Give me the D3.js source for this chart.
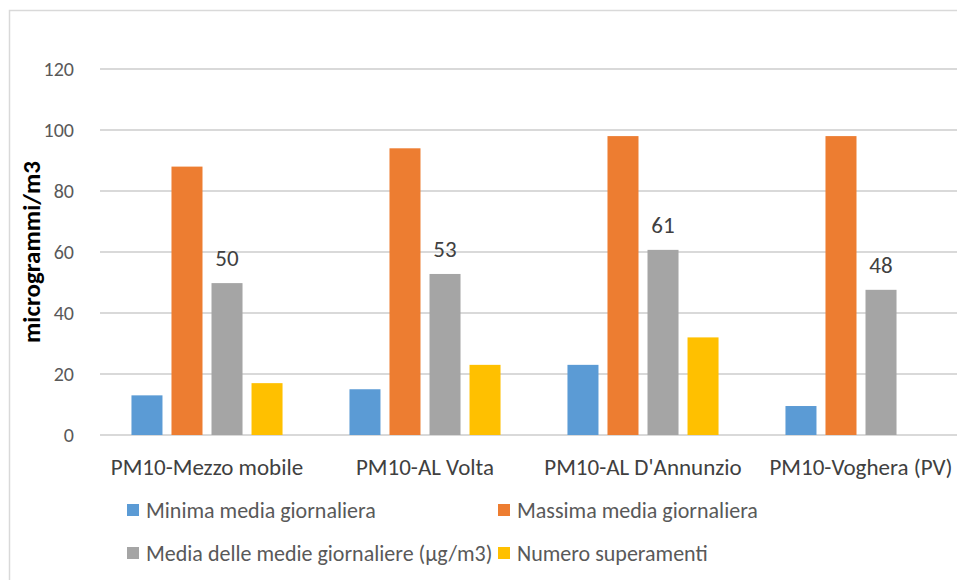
<!DOCTYPE html>
<html>
<head>
<meta charset="utf-8">
<script src="https://cdn.jsdelivr.net/npm/d3@7"></script>
<style>
  body { margin: 0; background: #fff; }
  svg text { font-family: "Carlito", "Liberation Sans", Arial, sans-serif; }
</style>
</head>
<body>
<div id="chart"></div>
<script>
var categories = ["PM10-Mezzo mobile", "PM10-AL Volta", "PM10-AL D'Annunzio", "PM10-Voghera (PV)"];
var seriesNames = ["Minima media giornaliera", "Massima media giornaliera",
                   "Media delle medie giornaliere (\u00b5g/m3)", "Numero superamenti"];
var minima = [13, 15, 23, 9.5];
var massima = [88, 94, 98, 98];
var mediaMedie = [49.8, 52.8, 60.7, 47.6];
var superamenti = [17, 23, 32, null];
var yTicks = [0, 20, 40, 60, 80, 100, 120];
var colors = ["#5b9bd5", "#ed7d31", "#a5a5a5", "#ffc000"];

var width = 957, height = 580;
var series = [minima, massima, mediaMedie, superamenti];

var svg = d3.select("#chart").append("svg")
    .attr("width", width)
    .attr("height", height);

// chart frame (only top and left visible)
svg.append("path")
    .attr("d", "M9.5," + height + "V10.5H" + width)
    .style("fill", "none")
    .style("stroke", "#d9d9d9")
    .style("stroke-width", "1.5px");

var y = d3.scaleLinear()
    .domain([0, 120])
    .range([435, 69]);

var x0 = d3.scaleBand()
    .domain(categories)
    .range([98, 970])
    .paddingInner(0.307)
    .paddingOuter(0.1535);

var x1 = d3.scaleBand()
    .domain(d3.range(series.length))
    .range([0, x0.bandwidth()])
    .paddingInner(0.225);

// gridlines
svg.append("g").selectAll("line")
    .data(yTicks)
    .enter().append("line")
    .attr("x1", 100)
    .attr("x2", width)
    .attr("y1", function(d) { return y(d); })
    .attr("y2", function(d) { return y(d); })
    .style("stroke", "#d9d9d9")
    .style("stroke-width", "2px");

// y tick labels
svg.append("g").selectAll("text")
    .data(yTicks)
    .enter().append("text")
    .attr("x", 74)
    .attr("y", function(d) { return y(d); })
    .attr("dy", ".35em")
    .attr("text-anchor", "end")
    .style("font-size", "20px")
    .style("fill", "#595959")
    .text(function(d) { return d; });

// y axis title
svg.append("text")
    .attr("transform", "translate(40," + y(60) + ") rotate(-90)")
    .attr("text-anchor", "middle")
    .style("font-size", "25px")
    .style("font-weight", "bold")
    .style("fill", "#000")
    .text("microgrammi/m3");

// bars
var group = svg.selectAll(".group")
    .data(categories)
    .enter().append("g")
    .attr("class", "group")
    .attr("transform", function(d) { return "translate(" + x0(d) + ",0)"; });

group.selectAll("rect")
    .data(function(d, ci) {
        return series.map(function(s, si) { return {si: si, v: s[ci]}; })
            .filter(function(e) { return e.v != null; });
    })
    .enter().append("rect")
    .attr("x", function(d) { return x1(d.si); })
    .attr("width", x1.bandwidth())
    .attr("y", function(d) { return y(d.v); })
    .attr("height", function(d) { return y(0) - y(d.v); })
    .style("fill", function(d) { return colors[d.si]; });

// data labels on the average series
group.append("text")
    .attr("x", x1(2) + x1.bandwidth() / 2)
    .attr("y", function(d, i) { return y(mediaMedie[i]) - 17; })
    .attr("text-anchor", "middle")
    .style("font-size", "23px")
    .style("fill", "#404040")
    .text(function(d, i) { return d3.format(".0f")(mediaMedie[i]); });

// category labels
svg.append("g").selectAll("text")
    .data(categories)
    .enter().append("text")
    .attr("x", function(d) { return x0(d) + x0.bandwidth() / 2; })
    .attr("y", 475)
    .attr("text-anchor", "middle")
    .style("font-size", "23px")
    .style("fill", "#404040")
    .text(function(d) { return d; });

// legend
var legendPos = [[127, 510], [498, 510], [127, 553], [498, 553]];
var legend = svg.selectAll(".legend")
    .data(seriesNames)
    .enter().append("g")
    .attr("class", "legend")
    .attr("transform", function(d, i) { return "translate(" + legendPos[i][0] + "," + legendPos[i][1] + ")"; });

legend.append("rect")
    .attr("x", 0)
    .attr("y", -6)
    .attr("width", 12)
    .attr("height", 12)
    .style("fill", function(d, i) { return colors[i]; });

legend.append("text")
    .attr("x", 19)
    .attr("dy", ".35em")
    .style("font-size", "22px")
    .style("fill", "#595959")
    .text(function(d) { return d; });
</script>
</body>
</html>
